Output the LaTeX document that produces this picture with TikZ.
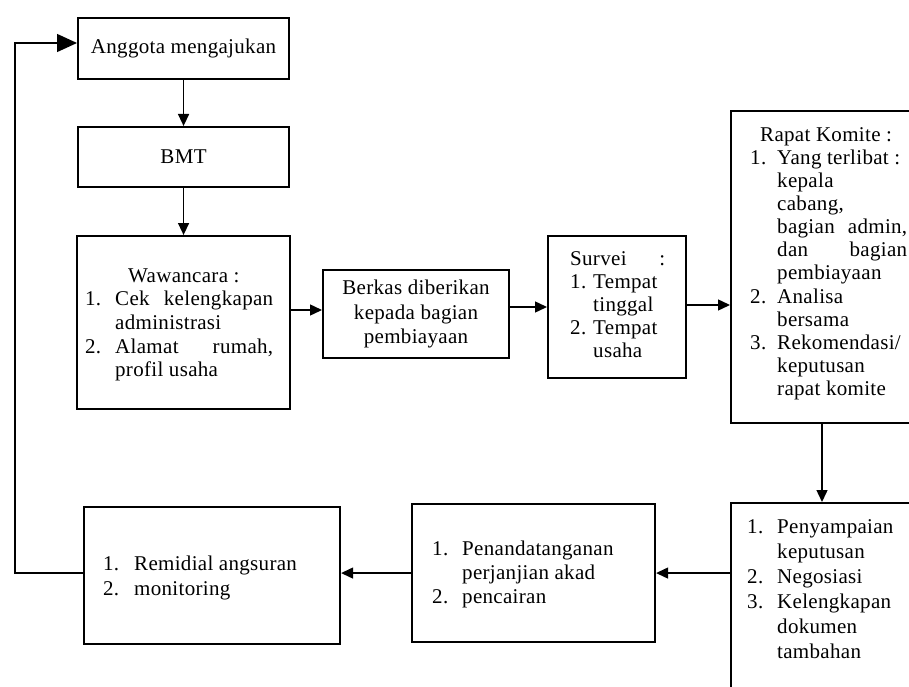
\documentclass[tikz,border=0pt]{standalone}
\usepackage{fontspec}
\setmainfont[LetterSpace=1.5]{Liberation Serif}
\usetikzlibrary{arrows.meta}
\newlength\indw
\newcommand\itm[2]{\par\noindent\hangindent=\indw\hangafter=1\makebox[\indw][l]{#1}#2}
\tikzset{
  box/.style={draw, line width=2.1pt, anchor=north west, inner sep=0pt},
  txt/.style={anchor=base west, inner sep=0pt},
  arr/.style={line width=1.4pt, -{Triangle[length=12pt,width=11pt]}},
  bigarr/.style={line width=1.4pt, -{Triangle[length=20pt,width=18pt]}},
}
\begin{document}
\begin{tikzpicture}[x=1pt,y=-1pt,font=\fontsize{21}{24}\selectfont]
\useasboundingbox (0,0) rectangle (909,687);
\clip (0,0) rectangle (909,687);

% boxes
\node[box, minimum width=211pt, minimum height=61pt] (a1) at (77,17) {Anggota mengajukan};
\node[box, minimum width=211pt, minimum height=60pt] (bmt) at (77,126) {BMT};
\node[box, minimum width=213pt, minimum height=173pt] (waw) at (76,235) {};
\node[box, minimum width=186pt, minimum height=88pt, align=center,
      font=\fontsize{21}{24.5}\selectfont] (berk) at (322,269) {Berkas diberikan\\kepada bagian\\pembiayaan};
\node[box, minimum width=138pt, minimum height=142pt] (surv) at (547,235) {};
\node[box, minimum width=185pt, minimum height=312pt] (rapat) at (730,110) {};
\node[box, minimum width=185pt, minimum height=198pt] (peny) at (730,502) {};
\node[box, minimum width=243pt, minimum height=138pt] (pena) at (411,503) {};
\node[box, minimum width=256pt, minimum height=137pt] (remid) at (83,506) {};

% texts
\node[txt] (wawt) at (85,282) {\parbox[t]{188pt}{\setlength\parindent{0pt}\setlength\indw{30pt}\fontsize{21}{23.7}\selectfont
  \hspace*{43pt}Wawancara :\itm{1.}{Cek\hfill kelengkapan\\administrasi}\itm{2.}{Alamat\hfill rumah,\\profil usaha}}};
\node[txt] (survt) at (570,265) {\parbox[t]{95pt}{\setlength\parindent{0pt}\setlength\indw{23pt}\fontsize{21}{23}\selectfont
  Survei\hfill :\itm{1.}{Tempat\\tinggal}\itm{2.}{Tempat\\usaha}}};
\node[txt] (rapatt) at (750,142) {\parbox[t]{157pt}{\setlength\parindent{0pt}\setlength\indw{27pt}\fontsize{21}{23}\selectfont
  \hspace*{10pt}Rapat Komite :\itm{1.}{Yang terlibat :\\kepala\\cabang,\\bagian\hfill admin,\\dan\hfill bagian\\pembiayaan}\itm{2.}{Analisa\\bersama}\itm{3.}{Rekomendasi/\\keputusan\\rapat komite}}};
\node[txt] (penyt) at (747,533) {\parbox[t]{150pt}{\setlength\parindent{0pt}\setlength\indw{30pt}\fontsize{21}{25}\selectfont
  \itm{1.}{Penyampaian\\keputusan}\itm{2.}{Negosiasi}\itm{3.}{Kelengkapan\\dokumen\\tambahan}}};
\node[txt] (penat) at (432,555) {\parbox[t]{215pt}{\setlength\parindent{0pt}\setlength\indw{30pt}\fontsize{21}{24}\selectfont
  \itm{1.}{Penandatanganan\\perjanjian akad}\itm{2.}{pencairan}}};
\node[txt] (remidt) at (103,570) {\parbox[t]{230pt}{\setlength\parindent{0pt}\setlength\indw{31pt}\fontsize{21}{25}\selectfont
  \itm{1.}{Remidial angsuran}\itm{2.}{monitoring}}};

% connectors
\coordinate (y1) at (0,310);
\coordinate (y2) at (0,307);
\coordinate (y3) at (0,305);
\coordinate (cx) at (822,0);
\coordinate (lb) at (15,0);
\coordinate (lt) at (0,43);
\draw[arr] (a1.south) -- (bmt.north);
\draw[arr] (bmt.south) -- (waw.north);
\draw[arr] (waw.east |- y1) -- (berk.west |- y1);
\draw[arr] (berk.east |- y2) -- (surv.west |- y2);
\draw[arr] (surv.east |- y3) -- (rapat.west |- y3);
\draw[arr] (rapat.south -| cx) -- (peny.north -| cx);
\draw[arr] (peny.west |- pena.east) -- (pena.east);
\draw[arr] (pena.west) -- (remid.east |- pena.west);
\draw[bigarr] (remid.west |- pena.west) -- (lb |- pena.west) -- (lb |- lt) -- (a1.west |- lt);
\end{tikzpicture}
\end{document}
